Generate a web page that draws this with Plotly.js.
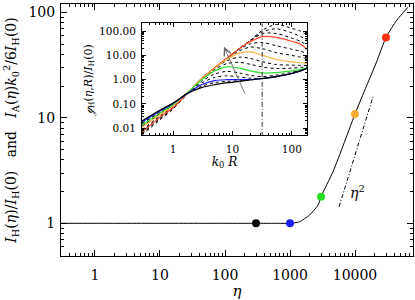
<!DOCTYPE html>
<html><head><meta charset="utf-8">
<script src="https://cdn.plot.ly/plotly-3.0.1.min.js"></script>
<style>html,body{margin:0;padding:0;background:#fff}#chart{width:415px;height:300px}</style>
</head><body><div id="chart"></div>
<script>
// ---- main panel data ----
const eta = [0.3, 1, 10, 100, 300, 600, 1000, 1400, 2000, 2700, 3000, 4600, 6600, 10000, 15000, 21500, 30000, 44000, 65000];
const intensity = [1.0, 1.0, 1.0, 1.0, 1.0, 1.0, 1.0, 1.035, 1.2, 1.49, 1.79, 3.1, 5.5, 10.9, 20, 34, 58, 84.5, 112];
const markEta = [300, 1000, 3000, 10000, 30000];
const markVal = [1.0, 1.0, 1.79, 10.9, 58];
const markColors = ['#000000', '#1f1ff0', '#25e025', '#ffaa30', '#ff3010'];
const slopeEta = [5700, 19000];
const slopeVal = [1.44, 16];
const slopeLabelPos = [10800, 2.0];
const mainTickVals = [1, 10, 100, 1000, 10000];

// ---- inset data ----
const kR = [0.3, 0.6, 1, 1.8, 3, 5, 8, 13, 20, 32, 55, 100, 140, 180];
const gBlack  = [0.020, 0.055, 0.11, 0.28, 0.47, 0.62, 0.74, 0.86, 0.97, 1.12, 1.35, 1.8, 2.3, 3.0];
const gBlue   = [0.018, 0.050, 0.105, 0.29, 0.62, 0.92, 1.0, 1.0, 1.02, 1.12, 1.35, 1.8, 2.3, 3.0];
const gGreen  = [0.0135, 0.042, 0.095, 0.31, 0.98, 2.3, 3.4, 3.0, 2.3, 1.9, 1.95, 2.3, 2.7, 3.1];
const gOrange = [0.011, 0.036, 0.085, 0.31, 1.08, 3.0, 7.0, 12.5, 14.0, 10.2, 6.8, 5.4, 5.0, 4.7];
const gRed    = [0.0068, 0.028, 0.070, 0.30, 1.1, 3.1, 7.6, 19, 37, 60, 56, 38, 29, 18];
const gDotted = [
  [0.019, 0.052, 0.108, 0.285, 0.53, 0.76, 0.85, 0.9, 0.98, 1.12, 1.35, 1.8, 2.3, 3.0],
  [0.0165, 0.048, 0.10, 0.30, 0.72, 1.25, 1.45, 1.3, 1.15, 1.15, 1.4, 1.85, 2.35, 3.0],
  [0.015, 0.045, 0.098, 0.30, 0.85, 1.7, 2.2, 1.9, 1.5, 1.35, 1.55, 2.0, 2.5, 3.0],
  [0.0125, 0.040, 0.091, 0.31, 1.02, 2.6, 4.6, 5.2, 4.3, 3.3, 2.9, 3.0, 3.2, 3.5],
  [0.012, 0.038, 0.088, 0.31, 1.05, 2.9, 6.0, 8.5, 7.5, 5.5, 4.2, 4.0, 3.9, 3.9],
  [0.0085, 0.032, 0.077, 0.31, 1.1, 3.05, 7.3, 15.5, 22, 19, 13, 10, 8.5, 7.5],
  [0.0075, 0.030, 0.073, 0.30, 1.1, 3.1, 7.5, 18, 30, 34, 25, 18, 15, 12],
  [0.0063, 0.026, 0.067, 0.30, 1.1, 3.1, 7.6, 19, 40, 80, 80, 52, 38, 26],
  [0.0058, 0.024, 0.064, 0.29, 1.1, 3.1, 7.6, 19, 41, 95, 125, 85, 60, 45],
  [0.0052, 0.022, 0.062, 0.29, 1.1, 3.1, 7.6, 19, 42, 110, 190, 130, 100, 66]
];
const insetMarkR = [31.6];
const arrowTail = [16.6, 0.234];
const arrowHead = [7.2, 22.6];
const insetTickVals = [0.01, 0.1, 1, 10, 100];

const traces = [];
// inset dotted curves
gDotted.forEach(g => traces.push({x: kR, y: g, xaxis: 'x2', yaxis: 'y2', mode: 'lines',
  line: {color: '#000', width: 1, dash: 'dot', shape: 'spline', smoothing: 0.8}, hoverinfo: 'skip'}));
[[gRed, '#ff4a2a'], [gOrange, '#ffb040'], [gGreen, '#30e030'], [gBlue, '#2020f0'], [gBlack, '#000']].forEach(([g, c]) =>
  traces.push({x: kR, y: g, xaxis: 'x2', yaxis: 'y2', mode: 'lines',
    line: {color: c, width: 1.2, shape: 'spline', smoothing: 0.8}}));
// vertical dash-dot marker line in inset
traces.push({x: [insetMarkR[0], insetMarkR[0]], y: [1e-4, 1e4], xaxis: 'x2', yaxis: 'y2', mode: 'lines',
  line: {color: '#333', width: 1, dash: '5px,2px,1px,2px'}});

// main curve
traces.push({x: eta, y: intensity, mode: 'lines', line: {color: '#000', width: 1, shape: 'spline', smoothing: 0.6}});
// eta^2 reference
traces.push({x: slopeEta, y: slopeVal, mode: 'lines', line: {color: '#000', width: 1, dash: '4px,2px,1px,2px'}});
// markers
traces.push({x: markEta, y: markVal, mode: 'markers', marker: {color: markColors, size: 8}});

const axisCommon = {type: 'log', ticks: 'inside', mirror: 'allticks', showline: true, linecolor: '#000',
  linewidth: 1, showgrid: false, zeroline: false, tickcolor: '#000'};

const layout = {
  width: 415, height: 300,
  margin: {l: 61, r: 2, t: 4, b: 44},
  paper_bgcolor: '#fff', plot_bgcolor: '#fff',
  showlegend: false,
  font: {family: 'DejaVu Serif', size: 14, color: '#000'},
  xaxis: Object.assign({}, axisCommon, {
    range: [Math.log10(0.3), Math.log10(78000)], tickvals: mainTickVals, ticktext: mainTickVals.map(String),
    ticklen: 6, ticklabelstandoff: 6,
    minor: {ticks: 'inside', ticklen: 3, dtick: 'D1', showgrid: false, tickcolor: '#000'},
    title: {text: '<i>η</i>', standoff: 4, font: {size: 15}}
  }),
  yaxis: Object.assign({}, axisCommon, {
    range: [-0.31, 2.08], tickvals: mainTickVals.slice(0, 3), ticktext: ['1', '10', '100'],
    ticklen: 6, ticklabelstandoff: 2,
    minor: {ticks: 'inside', ticklen: 3, dtick: 'D1', showgrid: false, tickcolor: '#000'},
    title: {text: '<i>I</i><sub>H</sub>(<i>η</i>)/<i>I</i><sub>H</sub>(0)\u00a0\u00a0 and \u00a0\u00a0<i>I</i><sub>A</sub>(<i>η</i>)<i>k</i><sub>0</sub><sup>2</sup>/6<i>I</i><sub>H</sub>(0)',
      standoff: 8, font: {size: 14}}
  }),
  xaxis2: Object.assign({}, axisCommon, {
    domain: [0.230, 0.699], anchor: 'y2',
    range: [Math.log10(0.3), Math.log10(180)], tickvals: [1, 10, 100], ticktext: ['1', '10', '100'],
    ticklen: 4, ticklabelstandoff: 4, tickfont: {size: 10.5},
    minor: {ticks: 'inside', ticklen: 2, dtick: 'D1', showgrid: false, tickcolor: '#000'},
    title: {text: '<i>k</i><sub>0</sub> <i>R</i>', standoff: 3, font: {size: 12}}
  }),
  yaxis2: Object.assign({}, axisCommon, {
    domain: [0.480, 0.923], anchor: 'x2',
    range: [-2.28, 2.32], tickvals: insetTickVals, ticktext: insetTickVals.map(v => v.toFixed(2)),
    ticklen: 4, ticklabelstandoff: 3, tickfont: {size: 10.5},
    minor: {ticks: 'inside', ticklen: 2, dtick: 'D1', showgrid: false, tickcolor: '#000'},
    title: {text: '<i>ℊ</i><sub>H</sub>(<i>η</i>,<i>R</i>)/<i>I</i><sub>H</sub>(0)', standoff: 4, font: {size: 11}}
  }),
  annotations: [
    {x: Math.log10(slopeLabelPos[0]), y: Math.log10(slopeLabelPos[1]), xref: 'x', yref: 'y',
     text: '<i>η</i><sup>2</sup>', showarrow: false, font: {size: 14}},
    {x: Math.log10(arrowHead[0]), y: Math.log10(arrowHead[1]), xref: 'x2', yref: 'y2',
     ax: Math.log10(arrowTail[0]), ay: Math.log10(arrowTail[1]), axref: 'x2', ayref: 'y2',
     showarrow: true, arrowhead: 5, arrowsize: 1.6, arrowwidth: 0.9, arrowcolor: '#666', text: ''}
  ]
};

Plotly.newPlot('chart', traces, layout, {staticPlot: true, displayModeBar: false});
</script>
</body></html>
